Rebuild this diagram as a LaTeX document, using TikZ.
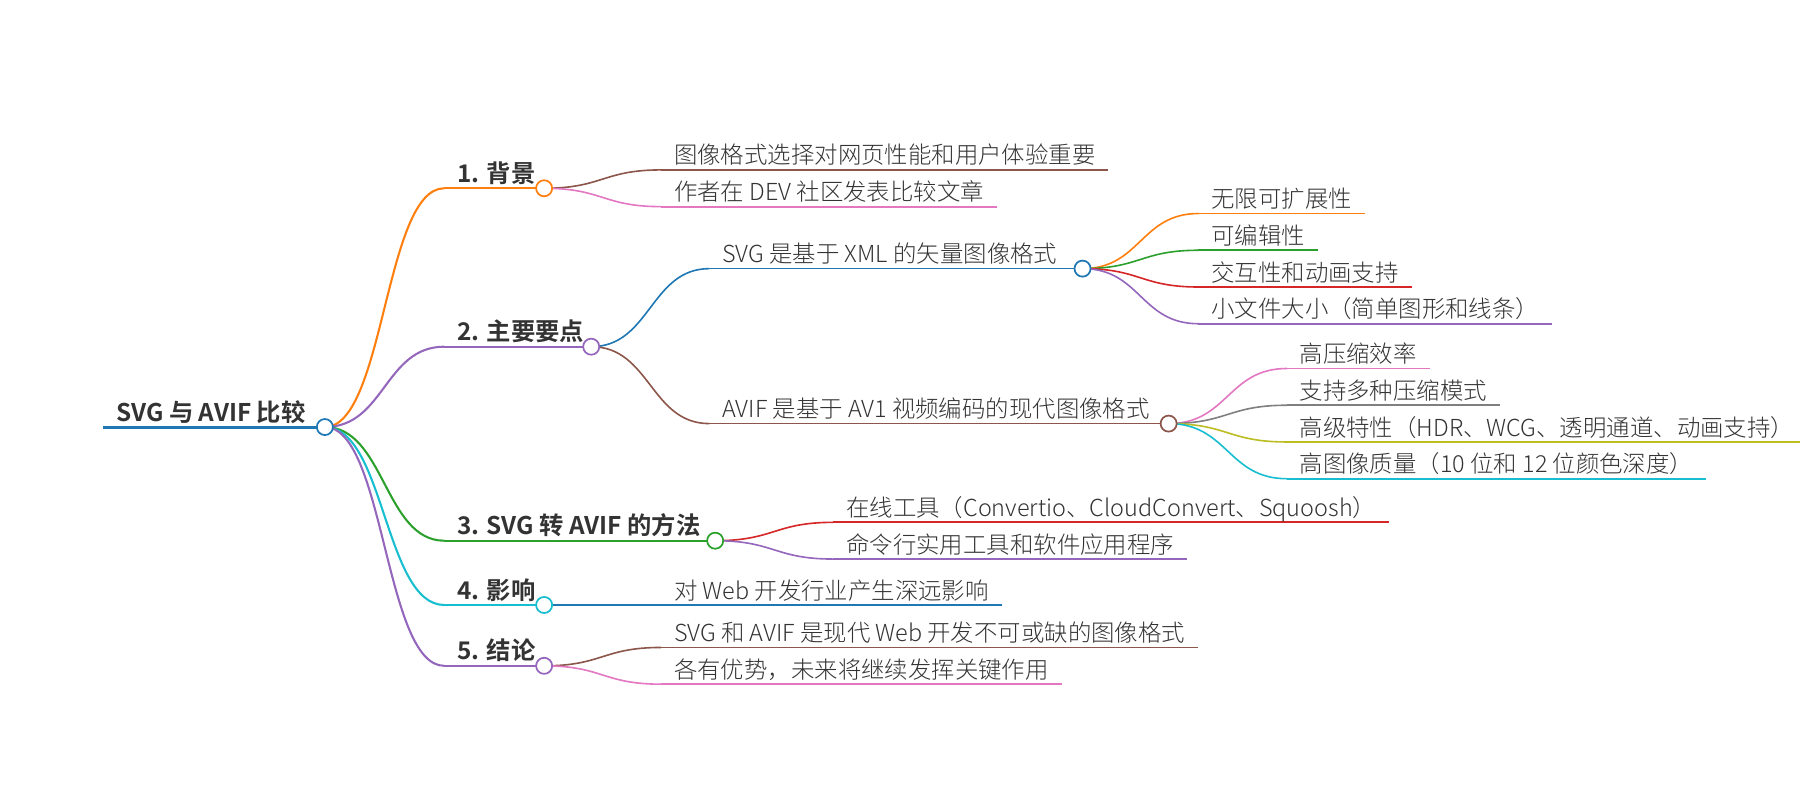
\documentclass[tikz,border=0pt]{standalone}
\usepackage{fontspec}
\setmainfont{Noto Sans CJK SC}[UprightFont={* Light}, BoldFont={* Bold}]
\usetikzlibrary{backgrounds, calc}

\definecolor{mmblue}{HTML}{1F77B4}
\definecolor{mmorange}{HTML}{FF7F0E}
\definecolor{mmgreen}{HTML}{2CA02C}
\definecolor{mmred}{HTML}{D62728}
\definecolor{mmpurple}{HTML}{9467BD}
\definecolor{mmbrown}{HTML}{8C564B}
\definecolor{mmpink}{HTML}{E377C2}
\definecolor{mmgray}{HTML}{7F7F7F}
\definecolor{mmolive}{HTML}{BCBD22}
\definecolor{mmcyan}{HTML}{17BECF}

\begin{document}
\begin{tikzpicture}[
    x=1pt, y=-1pt,
    % Node styles
    leaf/.style={
        anchor=south west,
        inner xsep=11pt,
        inner ysep=5pt,
        text depth=0pt,
        text=black!80,
        font=\fontsize{20.4pt}{24pt}\selectfont
    },
    head/.style={
        leaf,
        font=\fontsize{21.2pt}{25pt}\selectfont\bfseries
    },
    knob/.style={
        circle,
        draw=#1,
        fill=white,
        line width=1.5pt,
        minimum size=14pt,
        inner sep=0pt
    },
    % Connector styles
    uline/.style={#1, line width=1.5pt},
    wire/.style={
        #1,
        line width=1.4pt,
        to path={let \p1=(\tikztostart), \p2=(\tikztotarget) in
            .. controls ({(\x1+\x2)/2},\y1) and ({(\x1+\x2)/2},\y2) .. (\tikztotarget)}
    }
]
\useasboundingbox (0, 0) rectangle (1568, 697);

% === Root ===
\node[head] (root) at (90, 372) {SVG 与 AVIF 比较};
\node[knob=mmblue] (rootK) at (283, 372) {};

% === Level 1 ===
\node[head] (bg) at (387, 164) {1. 背景};
\node[knob=mmorange] (bgK) at (474, 164) {};
\node[head] (pts) at (387, 302) {2. 主要要点};
\node[knob=mmpurple] (ptsK) at (515, 302) {};
\node[head] (how) at (387, 471) {3. SVG 转 AVIF 的方法};
\node[knob=mmgreen] (howK) at (623, 471) {};
\node[head] (eff) at (387, 527) {4. 影响};
\node[knob=mmcyan] (effK) at (474, 527) {};
\node[head] (con) at (387, 580) {5. 结论};
\node[knob=mmpurple] (conK) at (474, 580) {};

% === Level 2 ===
\node[leaf] (bgA) at (576, 148) {图像格式选择对网页性能和用户体验重要};
\node[leaf] (bgB) at (576, 180) {作者在 DEV 社区发表比较文章};
\node[leaf] (svg) at (618, 234) {SVG 是基于 XML 的矢量图像格式};
\node[knob=mmblue] (svgK) at (943, 234) {};
\node[leaf] (avif) at (618, 369) {AVIF 是基于 AV1 视频编码的现代图像格式};
\node[knob=mmbrown] (avifK) at (1018, 369) {};
\node[leaf] (howA) at (726, 455) {在线工具（Convertio、CloudConvert、Squoosh）};
\node[leaf] (howB) at (726, 487) {命令行实用工具和软件应用程序};
\node[leaf] (effA) at (576, 527) {对 Web 开发行业产生深远影响};
\node[leaf] (conA) at (576, 564) {SVG 和 AVIF 是现代 Web 开发不可或缺的图像格式};
\node[leaf] (conB) at (576, 596) {各有优势，未来将继续发挥关键作用};

% === Level 3 ===
\node[leaf] (svgA) at (1044, 186) {无限可扩展性};
\node[leaf] (svgB) at (1044, 218) {可编辑性};
\node[leaf] (svgC) at (1044, 250) {交互性和动画支持};
\node[leaf] (svgD) at (1044, 282) {小文件大小（简单图形和线条）};
\node[leaf] (avifA) at (1121, 321) {高压缩效率};
\node[leaf] (avifB) at (1121, 353) {支持多种压缩模式};
\node[leaf] (avifC) at (1121, 385) {高级特性（HDR、WCG、透明通道、动画支持）};
\node[leaf] (avifD) at (1121, 417) {高图像质量（10 位和 12 位颜色深度）};

\begin{scope}[on background layer]
% === Underlines ===
\draw[uline=mmblue, line width=2.6pt] (root.south west) -- (rootK.center);
\draw[uline=mmorange, line width=1.8pt] (bg.south west) -- (bgK.center);
\draw[uline=mmpurple, line width=1.8pt] (pts.south west) -- (ptsK.center);
\draw[uline=mmgreen, line width=1.8pt] (how.south west) -- (howK.center);
\draw[uline=mmcyan, line width=1.8pt] (eff.south west) -- (effK.center);
\draw[uline=mmpurple, line width=1.8pt] (con.south west) -- (conK.center);
\draw[uline=mmblue] (svg.south west) -- (svgK.center);
\draw[uline=mmbrown] (avif.south west) -- (avifK.center);
\draw[uline=mmbrown] (bgA.south west) -- (bgA.south east);
\draw[uline=mmpink] (bgB.south west) -- (bgB.south east);
\draw[uline=mmred] (howA.south west) -- (howA.south east);
\draw[uline=mmpurple] (howB.south west) -- (howB.south east);
\draw[uline=mmblue] (effA.south west) -- (effA.south east);
\draw[uline=mmbrown] (conA.south west) -- (conA.south east);
\draw[uline=mmpink] (conB.south west) -- (conB.south east);
\draw[uline=mmorange] (svgA.south west) -- (svgA.south east);
\draw[uline=mmgreen] (svgB.south west) -- (svgB.south east);
\draw[uline=mmred] (svgC.south west) -- (svgC.south east);
\draw[uline=mmpurple] (svgD.south west) -- (svgD.south east);
\draw[uline=mmpink] (avifA.south west) -- (avifA.south east);
\draw[uline=mmgray] (avifB.south west) -- (avifB.south east);
\draw[uline=mmolive] (avifC.south west) -- (avifC.south east);
\draw[uline=mmcyan] (avifD.south west) -- (avifD.south east);

% === Links ===
\draw[wire=mmorange, line width=1.8pt] (rootK.center) to (bg.south west);
\draw[wire=mmpurple, line width=1.8pt] (rootK.center) to (pts.south west);
\draw[wire=mmgreen, line width=1.8pt] (rootK.center) to (how.south west);
\draw[wire=mmcyan, line width=1.8pt] (rootK.center) to (eff.south west);
\draw[wire=mmpurple, line width=1.8pt] (rootK.center) to (con.south west);
\draw[wire=mmbrown] (bgK.center) to (bgA.south west);
\draw[wire=mmpink] (bgK.center) to (bgB.south west);
\draw[wire=mmblue] (ptsK.center) to (svg.south west);
\draw[wire=mmbrown] (ptsK.center) to (avif.south west);
\draw[wire=mmred] (howK.center) to (howA.south west);
\draw[wire=mmpurple] (howK.center) to (howB.south west);
\draw[wire=mmblue] (effK.center) to (effA.south west);
\draw[wire=mmbrown] (conK.center) to (conA.south west);
\draw[wire=mmpink] (conK.center) to (conB.south west);
\draw[wire=mmorange] (svgK.center) to (svgA.south west);
\draw[wire=mmgreen] (svgK.center) to (svgB.south west);
\draw[wire=mmred] (svgK.center) to (svgC.south west);
\draw[wire=mmpurple] (svgK.center) to (svgD.south west);
\draw[wire=mmpink] (avifK.center) to (avifA.south west);
\draw[wire=mmgray] (avifK.center) to (avifB.south west);
\draw[wire=mmolive] (avifK.center) to (avifC.south west);
\draw[wire=mmcyan] (avifK.center) to (avifD.south west);
\end{scope}

\end{tikzpicture}
\end{document}
